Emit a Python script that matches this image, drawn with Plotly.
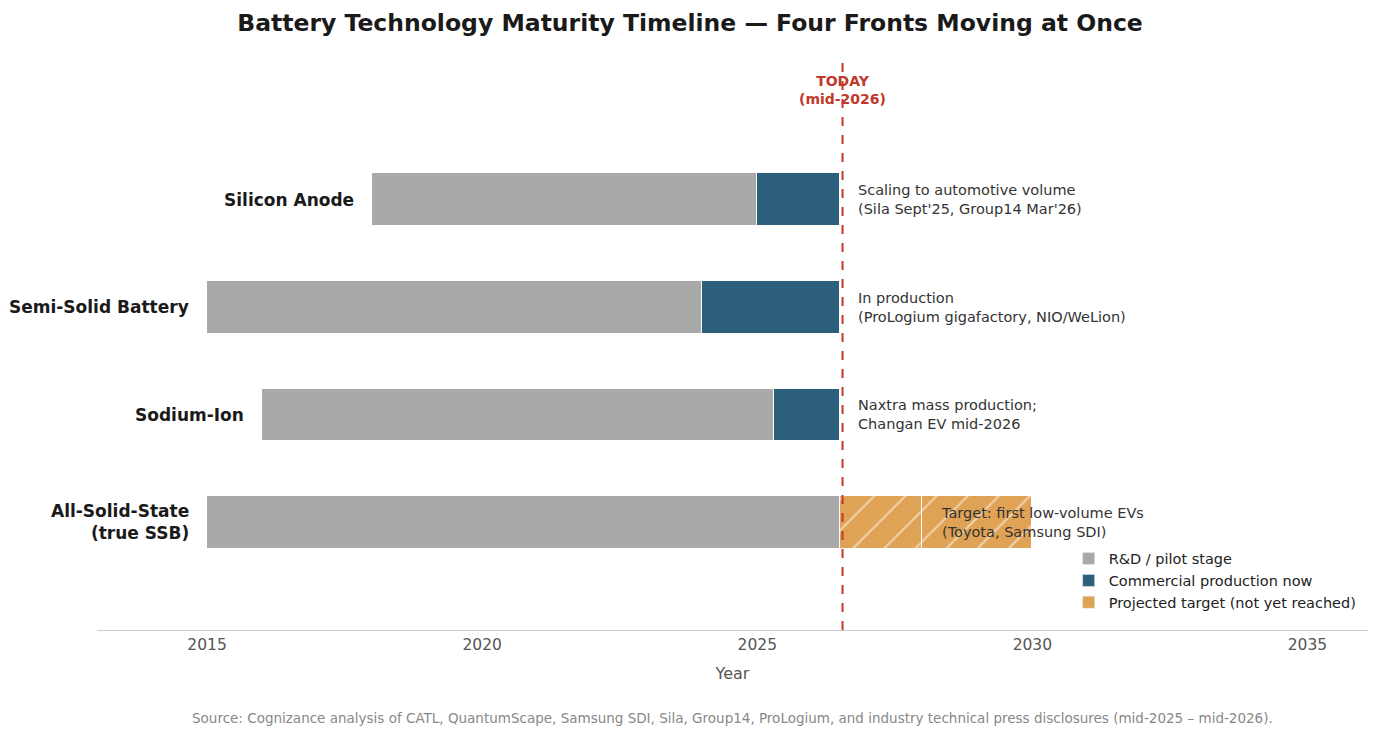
import plotly.graph_objects as go

techs = ["Silicon Anode", "Semi-Solid Battery", "Sodium-Ion", "All-Solid-State<br>(true SSB)"]
rows = [3, 2, 1, 0]
rd_start = [2018, 2015, 2016, 2015]
rd_end = [2025, 2024, 2025.3, 2026.5]
prod_start = [2025, 2024, 2025.3]
prod_end = [2026.5, 2026.5, 2026.5]
target_start = [2026.5, 2028]
target_end = [2028, 2030]
notes = ["Scaling to automotive volume<br>(Sila Sept'25, Group14 Mar'26)",
         "In production<br>(ProLogium gigafactory, NIO/WeLion)",
         "Naxtra mass production;<br>Changan EV mid-2026",
         "Target: first low-volume EVs<br>(Toyota, Samsung SDI)"]
note_x = [2026.8, 2026.8, 2026.8, 2028.3]
today = 2026.55

GRAY, BLUE, ORANGE = "#a9a9a9", "#2c5f7c", "#e0a255"
fig = go.Figure()
bw = 0.49
fig.add_trace(go.Bar(y=rows, base=rd_start, x=[e - s for s, e in zip(rd_start, rd_end)],
                     orientation="h", width=bw, marker=dict(color=GRAY, line=dict(color="white", width=1)),
                     showlegend=False, hoverinfo="skip"))
fig.add_trace(go.Bar(y=rows[:3], base=prod_start, x=[e - s for s, e in zip(prod_start, prod_end)],
                     orientation="h", width=bw, marker=dict(color=BLUE, line=dict(color="white", width=1)),
                     showlegend=False, hoverinfo="skip"))
fig.add_trace(go.Bar(y=[0, 0], base=target_start, x=[e - s for s, e in zip(target_start, target_end)],
                     orientation="h", width=bw,
                     marker=dict(color=ORANGE, line=dict(color="white", width=1),
                                 pattern=dict(shape="/", fgcolor="white", bgcolor=ORANGE, size=22, solidity=0.1)),
                     showlegend=False, hoverinfo="skip"))
for name, c in [("R&D / pilot stage", GRAY), ("Commercial production now", BLUE),
                ("Projected target (not yet reached)", ORANGE)]:
    fig.add_trace(go.Bar(x=[None], y=[None], orientation="h", name=name, marker_color=c))

fig.add_vline(x=today, line=dict(color="#c0392b", width=2, dash="dash"))
fig.add_annotation(x=today, y=4.02, text="<b>TODAY<br>(mid-2026)</b>", showarrow=False,
                   font=dict(color="#c0392b", size=14))
for t, r, s in zip(techs, rows, rd_start):
    fig.add_annotation(x=s - 0.3, y=r, text="<b>" + t + "</b>", showarrow=False, xanchor="right",
                       align="right", font=dict(size=17, color="#1a1a1a"))
for n, r, x in zip(notes, rows, note_x):
    fig.add_annotation(x=x, y=r, text=n, showarrow=False, xanchor="left", align="left",
                       font=dict(size=14.5, color="#333"))
fig.add_annotation(xref="paper", yref="paper", x=0.5, y=-0.154, yanchor="middle", text=
                   "Source: Cognizance analysis of CATL, QuantumScape, Samsung SDI, Sila, Group14, ProLogium, and industry technical press disclosures (mid-2025 – mid-2026).",
                   showarrow=False, font=dict(size=13.5, color="#888"), xanchor="center")

fig.update_layout(
    width=1364, height=722, barmode="overlay", bargap=0,
    paper_bgcolor="white", plot_bgcolor="white",
    font=dict(family="DejaVu Sans", color="#333"),
    title=dict(text="<b>Battery Technology Maturity Timeline — Four Fronts Moving at Once</b>",
               x=0.5, xanchor="center", y=0.98, yanchor="middle", font=dict(size=23.5, color="#1a1a1a")),
    margin=dict(l=89, r=4, t=52, b=100),
    xaxis=dict(range=[2013, 2036.1], tickvals=[2015, 2020, 2025, 2030, 2035], showgrid=False,
               showline=True, linecolor="#ccc", ticks="", tickfont=dict(size=15.5, color="#555"),
               title=dict(text="Year", font=dict(size=16, color="#555")), zeroline=False),
    yaxis=dict(range=[-1, 4.3], visible=False),
    legend=dict(x=0.995, y=0.02, xanchor="right", yanchor="bottom", font=dict(size=14.5, color="#222"),
                bgcolor="rgba(255,255,255,0.8)"),
)
fig.write_html("out.html")
